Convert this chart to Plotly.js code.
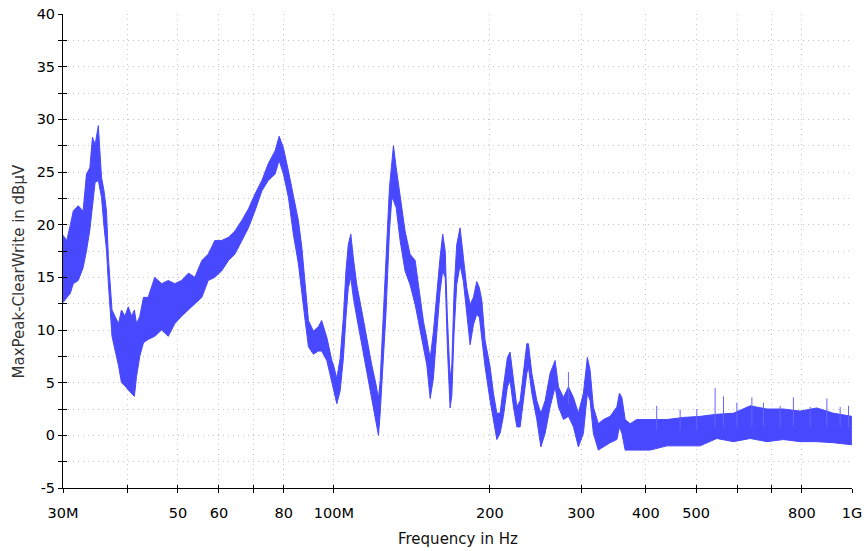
<!DOCTYPE html>
<html><head><meta charset="utf-8">
<script src="https://cdn.plot.ly/plotly-3.0.1.min.js"></script>
<style>html,body{margin:0;padding:0;background:#fff}#chart{width:866px;height:551px}</style>
</head><body><div id="chart"></div>
<script>
// Frequency (MHz) and upper / lower envelope of the MaxPeak trace (dBµV)
const freqMHz = [30.0,30.5,31.0,31.4,32.1,32.8,33.3,33.8,34.2,34.6,35.1,35.6,36.0,36.4,36.7,37.0,37.3,37.8,38.4,38.9,39.5,40.1,40.7,41.2,41.6,42.2,42.9,43.8,45.1,46.5,47.9,49.3,50.8,52.4,53.9,55.6,
57.2,58.9,60.7,62.6,64.4,66.4,68.4,70.4,72.6,74.7,77.0,78.4,79.9,81.7,83.5,85.4,86.7,88.0,89.3,91.3,93.3,94.7,96.9,99.1,
99.8,101.3,102.8,104.3,105.5,106.6,107.8,109.0,110.7,113.2,115.7,118.3,120.6,121.9,122.8,124.3,126.1,128.0,129.4,130.3,131.9,134.2,137.2,140.3,143.5,145.6,148.9,151.1,153.4,155.6,158.0,160.3,162.2,164.0,165.6,167.6,168.9,170.6,172.6,175.2,177.8,180.5,183.2,185.9,188.7,190.9,
193.0,195.8,200.2,203.2,206.3,209.3,212.4,216.2,218.8,222.1,225.5,228.8,232.2,235.7,237.4,241.0,246.4,250.9,255.7,261.4,267.3,271.3,277.4,283.6,290.0,296.4,303.1,308.5,312.2,316.8,323.9,331.3,341.3,351.7,355.7,359.6,364.9,373.0,384.2,
389.9,407.8,439.2,472.8,509.2,548.3,590.5,636.1,685.0,737.5,794.2,855.3,920.9,999.6];
const upper = [19.0,18.5,20.0,21.3,21.8,21.3,24.8,25.4,28.3,27.6,29.4,24.5,23.2,21.3,16.9,13.8,11.9,11.3,10.6,11.9,11.3,12.2,11.3,11.9,10.6,11.3,13.1,13.1,15.0,14.4,14.7,14.4,14.7,15.4,15.0,16.6,
17.2,18.5,18.5,18.8,19.4,20.4,21.5,22.9,24.2,25.8,27.0,28.4,27.3,25.1,22.9,20.4,17.9,14.7,10.9,9.9,10.3,10.9,9.3,7.1,
6.7,5.4,7.3,11.2,15.6,18.1,19.1,16.9,14.3,11.8,9.2,6.7,4.8,3.5,5.1,11.2,16.9,23.5,26.4,27.5,25.4,22.6,19.4,17.2,16.6,14.3,10.8,9.2,7.3,9.8,13.7,16.9,19.1,17.5,11.2,5.4,6.7,13.7,18.1,19.7,16.9,14.0,12.4,13.1,14.6,14.0,
12.8,9.0,6.5,4.0,2.1,2.1,4.6,7.4,7.9,5.2,2.7,3.3,5.9,8.7,8.7,5.9,3.3,2.1,3.3,5.9,7.1,4.6,3.6,4.6,3.6,2.1,4.0,7.4,6.2,2.7,1.1,1.5,1.8,2.7,4.0,3.6,1.5,1.1,1.5,
1.5,1.5,1.5,1.7,1.8,2.0,2.1,2.8,2.5,2.5,2.3,2.6,2.1,1.8];
const lower = [12.6,13.0,13.5,14.4,14.7,15.9,17.5,19.5,22.0,24.0,24.2,22.6,19.8,17.6,14.4,11.9,9.4,8.1,6.6,5.0,4.7,4.3,4.0,3.7,5.6,7.5,8.8,9.1,9.4,10.0,9.4,10.6,11.3,11.9,12.5,13.1,
14.7,15.0,15.6,16.6,17.2,18.5,19.7,21.3,23.2,24.2,24.8,26.1,24.8,22.6,19.1,16.3,13.4,10.9,8.4,7.7,8.0,8.0,7.1,4.9,
4.2,3.0,4.2,7.3,11.2,14.0,15.0,13.1,11.2,8.6,6.4,3.8,1.6,0.0,2.0,6.7,11.8,19.4,22.6,22.3,21.6,18.5,15.6,14.3,12.4,10.8,8.3,6.7,3.5,5.4,9.8,13.7,15.6,15.0,8.3,2.6,3.8,9.8,14.3,16.2,14.6,11.5,8.6,10.5,11.5,11.2,
9.3,6.5,3.3,1.5,-0.4,0.2,1.8,4.6,5.2,2.7,0.8,0.8,3.3,5.9,6.5,4.0,1.5,-1.1,0.2,2.7,4.6,2.7,1.5,1.8,0.8,-1.1,0.2,4.0,3.3,0.2,-1.4,-1.1,-0.7,-0.4,0.8,0.2,-1.4,-1.4,-1.4,
-1.4,-1.4,-1.0,-1.0,-1.0,-0.3,-0.6,-0.3,-0.6,-0.4,-0.6,-0.6,-0.7,-0.9];

// Isolated narrow spikes above the noise band
const spikeMHz  = [283.6,419.8,465.9,501.7,544.3,564.8,599.5,640.9,674.6,726.8,770.8,830.4,894.4,948.7,984.6];
const spikeTop  = [6.0,2.8,2.45,2.5,4.5,3.7,3.1,3.6,3.1,2.8,3.6,2.7,3.5,2.7,2.8];
const spikeBase = [3.0,0.5,0.5,0.5,0.8,0.8,0.8,0.8,0.8,0.8,0.8,0.8,0.8,0.8,0.8];

const xTickMHz  = [30,40,50,60,70,80,100,200,300,400,500,600,700,800,1000];
const xTickText = ['30M','','50','60','','80','100M','200','300','400','500','','','800','1G'];
const yTickVals = [-5,-2.5,0,2.5,5,7.5,10,12.5,15,17.5,20,22.5,25,27.5,30,32.5,35,37.5,40];
const yTickText = ['-5','','0','','5','','10','','15','','20','','25','','30','','35','','40'];

const BLUE = 'rgb(72,72,255)';
const hz = f => f * 1e6;

const spikeX = [], spikeY = [];
spikeMHz.forEach((f, i) => { spikeX.push(hz(f), hz(f), null); spikeY.push(spikeBase[i], spikeTop[i], null); });

const traces = [
  {x: freqMHz.map(hz), y: lower, mode: 'lines', line: {color: BLUE, width: 1}, hoverinfo: 'skip', showlegend: false},
  {x: freqMHz.map(hz), y: upper, mode: 'lines', fill: 'tonexty', fillcolor: BLUE, line: {color: BLUE, width: 1}, hoverinfo: 'skip', showlegend: false},
  {x: spikeX, y: spikeY, mode: 'lines', line: {color: 'rgb(100,100,255)', width: 1}, hoverinfo: 'skip', showlegend: false, connectgaps: false},
  {x: [hz(30)], y: [-10], xaxis: 'x2', yaxis: 'y2', mode: 'markers', marker: {opacity: 0}, hoverinfo: 'skip', showlegend: false}
];

const FONT = 'DejaVu Sans, Liberation Sans, Arial, sans-serif';
const xr = [Math.log10(30e6), Math.log10(1e9)];
const common = {ticks: 'outside', ticklen: 4, tickcolor: '#000', tickwidth: 1, zeroline: false};

const layout = {
  width: 866, height: 551,
  margin: {l: 63, r: 14, t: 14, b: 63},
  paper_bgcolor: '#fff', plot_bgcolor: '#fff',
  showlegend: false,
  xaxis: Object.assign({}, common, {
    type: 'log', range: xr, tickmode: 'array', tickvals: xTickMHz.map(hz), ticktext: xTickText,
    showline: true, linecolor: '#000', linewidth: 1,
    showgrid: true, gridcolor: '#c4c4c4', gridwidth: 1, griddash: '1px,4px',
    tickfont: {family: FONT, size: 14.5, color: '#000'}, ticklabelstandoff: 8
  }),
  yaxis: Object.assign({}, common, {
    range: [-5, 40], tickmode: 'array', tickvals: yTickVals, ticktext: yTickText,
    showline: true, linecolor: '#000', linewidth: 1,
    showgrid: true, gridcolor: '#c4c4c4', gridwidth: 1, griddash: '1px,4px',
    tickfont: {family: FONT, size: 14.5, color: '#000'}
  }),
  xaxis2: {type: 'log', range: xr, overlaying: 'x', anchor: 'y2', tickmode: 'array', tickvals: xTickMHz.map(hz),
    ticks: 'inside', ticklen: 3, tickcolor: '#000', showticklabels: false, showgrid: false, showline: false, zeroline: false},
  yaxis2: {range: [-5, 40], overlaying: 'y', anchor: 'x2', tickmode: 'array', tickvals: yTickVals,
    ticks: 'inside', ticklen: 4, tickcolor: '#000', showticklabels: false, showgrid: false, showline: false, zeroline: false},
  annotations: [
    {text: 'MaxPeak-ClearWrite in dBµV', xref: 'paper', yref: 'paper', x: 0, y: (488 - 271.5) / 474,
     xshift: -45, xanchor: 'center', yanchor: 'middle', textangle: -90, showarrow: false,
     font: {family: FONT, size: 15, color: '#333'}},
    {text: 'Frequency in Hz', xref: 'paper', yref: 'paper', x: 0.5, y: (488 - 539) / 474,
     xanchor: 'center', yanchor: 'middle', showarrow: false,
     font: {family: FONT, size: 15, color: '#111'}}
  ]
};

Plotly.newPlot('chart', traces, layout, {displayModeBar: false, staticPlot: true});
</script>
</body></html>
